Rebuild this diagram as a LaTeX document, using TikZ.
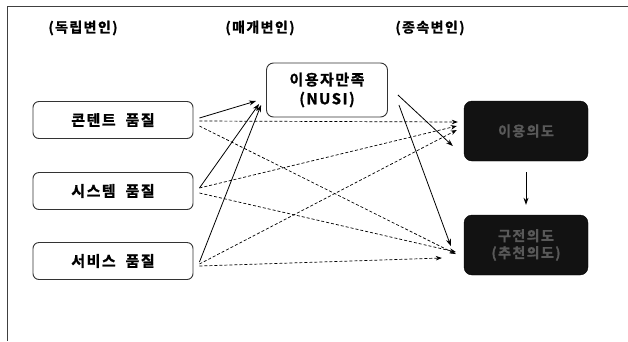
\documentclass[tikz,border=0pt]{standalone}
\usepackage{fontspec}
\newfontfamily\krsp{Noto Sans CJK KR}[BoldFont={Noto Sans CJK KR Bold},BoldFeatures={FakeBold=1.2},LetterSpace=10]
\usetikzlibrary{arrows.meta}
\begin{document}
\begin{tikzpicture}[x=1pt,y=1pt,
  hdr/.style={font=\krsp\bfseries\fontsize{14}{16}\selectfont, inner sep=0pt},
  ivbox/.style={draw=black!80, line width=0.9pt, rounded corners=6pt, fill=white,
    minimum width=160pt, minimum height=37pt, font=\krsp\bfseries\fontsize{15}{16}\selectfont},
  mbox/.style={draw=black!80, line width=0.9pt, rounded corners=7pt, fill=white,
    minimum width=121pt, minimum height=54pt, align=center,
    font=\krsp\bfseries\fontsize{15}{19}\selectfont},
  dbox/.style={fill=black!93, draw=black, rounded corners=8pt,
    minimum width=124pt, minimum height=60pt, align=center, text=black!65,
    font=\krsp\bfseries\fontsize{14}{17}\selectfont},
  sol/.style={line width=0.8pt, -{Stealth[length=7pt,width=5pt]}},
  dsh/.style={line width=0.7pt, dash pattern=on 3pt off 2pt, -{Stealth[length=6pt,width=4.5pt]}}
]
\useasboundingbox (0,0) rectangle (628,-341);
\fill[white] (0,0) rectangle (628,-341);
\coordinate (tl) at (7,-6);
\coordinate (tr) at (628,-6);
\coordinate (bl) at (7,-341);
\draw[line width=1pt, black!75] (tr) -- (tl) -- (bl);

\node[hdr] (h1) at (83,-28) {(독립변인)};
\node[hdr] (h2) at (260,-28) {(매개변인)};
\node[hdr] (h3) at (430,-28) {(종속변인)};

\node[ivbox] (b1) at (113,-120) {콘텐트\ \ 품질};
\node[ivbox] (b2) at (113,-191) {시스템\ \ 품질};
\node[ivbox] (b3) at (113,-261) {서비스\ \ 품질};

\node[mbox] (m) at (327,-90) {이용자만족\\(NUSI)};

\node[dbox] (d1) at (526,-131) {이용의도};
\node[dbox] (d2) at (526,-245) {구전의도\\(추천의도)};

% solid arrows to mediator
\draw[sol] ([xshift=6pt,yshift=2pt]b1.east) -- ([xshift=-10pt,yshift=-11pt]m.west);
\draw[sol] ([xshift=6pt,yshift=3pt]b2.east) -- ([xshift=-7pt,yshift=-14pt]m.west);
\draw[sol] ([xshift=6pt,yshift=-1pt]b3.east) -- ([xshift=-5pt,yshift=-15pt]m.west);

% solid arrows from mediator
\draw[sol] ([xshift=10pt,yshift=-5pt]m.east) -- ([xshift=-11pt,yshift=-15pt]d1.west);
\draw[sol] ([xshift=11pt,yshift=-15pt]m.east) -- ([xshift=-13pt,yshift=-1pt]d2.west);

% dashed arrows
\draw[dsh] ([xshift=6pt,yshift=-1pt]b1.east) -- ([xshift=-6pt,yshift=9pt]d1.west);
\draw[dsh] ([xshift=6pt,yshift=-6pt]b1.east) -- ([xshift=-8pt,yshift=-9pt]d2.west);
\draw[dsh] ([xshift=6pt,yshift=3pt]b2.east) -- ([xshift=-7pt,yshift=5pt]d1.west);
\draw[dsh] ([xshift=6pt,yshift=-2pt]b2.east) -- ([xshift=-8pt,yshift=-7pt]d2.west);
\draw[dsh] ([xshift=6pt,yshift=-3pt]b3.east) -- ([xshift=-7pt,yshift=1pt]d1.west);
\draw[dsh] ([xshift=6pt,yshift=-5pt]b3.east) -- ([xshift=-22pt,yshift=-13pt]d2.west);

% between dependent variables
\draw[sol] ([yshift=-11pt]d1.south) -- ([yshift=10pt]d2.north);
\end{tikzpicture}
\end{document}
